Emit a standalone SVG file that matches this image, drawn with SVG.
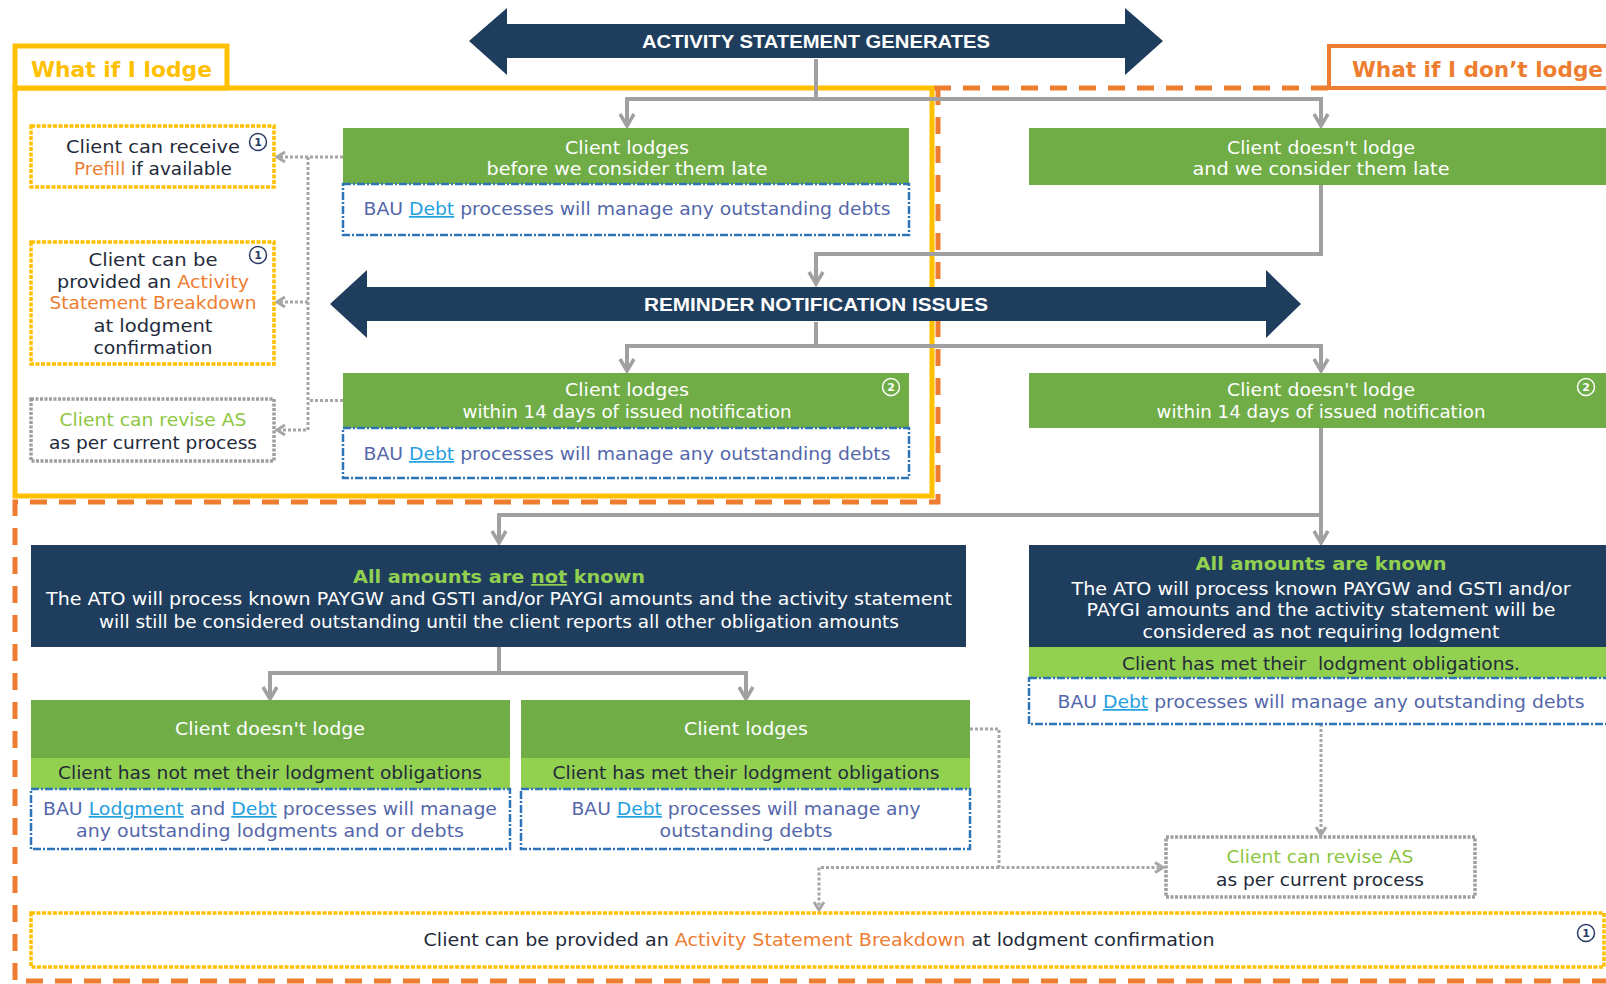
<svg xmlns="http://www.w3.org/2000/svg" width="1606" height="984" viewBox="0 0 1606 984">
<style>
.t{font-family:"DejaVu Sans","Liberation Sans",sans-serif;font-size:17px;text-anchor:middle}
.b{font-weight:bold}
.w{fill:#ffffff}
.dk{fill:#232a3a}
.bau{fill:#5467AA}
.lk{fill:#1FA0E0;text-decoration:underline}
.or{fill:#ED7D31}
.lg{fill:#8DC63F}
.ttl{fill:#92D050}
.hd{font-family:"Liberation Sans",Arial,sans-serif;font-weight:bold;font-size:19px;fill:#ffffff;text-anchor:middle}
.navy{fill:#1F3E5E}
.green{fill:#70AD47}
.lgreen{fill:#92D050}
.blue{fill:#ffffff;stroke:#2E75B6;stroke-width:2.5;stroke-dasharray:8 2 2 2}
.ybox{fill:#ffffff;stroke:#FFC000;stroke-width:3.5;stroke-dasharray:4 1.5}
.gbox{fill:#ffffff;stroke:#9E9E9E;stroke-width:3.5;stroke-dasharray:3 1.5}
.conn{stroke:#A0A0A0;stroke-width:4;fill:none}
.dot{stroke:#A6A6A6;stroke-width:3;stroke-dasharray:3 2;fill:none}
.num{font-family:"DejaVu Sans",sans-serif;font-size:11px;font-weight:bold;text-anchor:middle}
</style>
<defs>
<marker id="ah" markerUnits="userSpaceOnUse" viewBox="0 0 18 18" refX="15" refY="9" markerWidth="18" markerHeight="18" orient="auto">
<path d="M3,2 L15,9 L3,16" fill="none" stroke="#A0A0A0" stroke-width="3.5"/>
</marker>
<marker id="dh" markerUnits="userSpaceOnUse" viewBox="0 0 14 14" refX="11" refY="7" markerWidth="14" markerHeight="14" orient="auto">
<path d="M3,2 L11,7 L3,12" fill="none" stroke="#A6A6A6" stroke-width="3"/>
</marker>
</defs>
<rect width="1606" height="984" fill="#ffffff"/>

<g id="frames">
<path d="M934,88 L1329,88 M938,88 L938,502 L15,502 L15,981 L1610,981" fill="none" stroke="#ED7D31" stroke-width="5" stroke-dasharray="17 12"/>
<rect x="1329" y="46" width="290" height="42" fill="#ffffff" stroke="#ED7D31" stroke-width="4"/>
<text x="1352" y="77" class="b" font-family="DejaVu Sans,sans-serif" font-size="22" fill="#ED7D31" textLength="251" lengthAdjust="spacingAndGlyphs">What if I don’t lodge</text>
<rect x="15" y="88" width="917" height="408" fill="none" stroke="#FFC000" stroke-width="5"/>
<rect x="15" y="46" width="212" height="42" fill="#ffffff" stroke="#FFC000" stroke-width="5"/>
<text x="31" y="77" class="b" font-family="DejaVu Sans,sans-serif" font-size="22" fill="#FFC000" textLength="181" lengthAdjust="spacingAndGlyphs">What if I lodge</text>
</g>

<g id="connectors">
<path class="conn" d="M816,59 L816,99 L627,99 L627,126" marker-end="url(#ah)"/>
<path class="conn" d="M816,99 L1321,99 L1321,126" marker-end="url(#ah)"/>
<path class="conn" d="M1321,185 L1321,254 L816,254 L816,284" marker-end="url(#ah)"/>
<path class="conn" d="M816,322 L816,346 L627,346 L627,371" marker-end="url(#ah)"/>
<path class="conn" d="M816,346 L1321,346 L1321,371" marker-end="url(#ah)"/>
<path class="conn" d="M1321,428 L1321,543" marker-end="url(#ah)"/>
<path class="conn" d="M1321,515 L499,515 L499,543" marker-end="url(#ah)"/>
<path class="conn" d="M499,647 L499,673 L270,673 L270,699" marker-end="url(#ah)"/>
<path class="conn" d="M499,673 L746,673 L746,699" marker-end="url(#ah)"/>
<path class="dot" d="M343,157 L277,157" marker-end="url(#dh)"/>
<path class="dot" d="M308,157 L308,430 L277,430" marker-end="url(#dh)"/>
<path class="dot" d="M308,302 L277,302" marker-end="url(#dh)"/>
<path class="dot" d="M343,400.5 L308,400.5"/>
<path class="dot" d="M970,729 L999,729 L999,867.5 L1163,867.5" marker-end="url(#dh)"/>
<path class="dot" d="M999,867.5 L819,867.5 L819,910" marker-end="url(#dh)"/>
<path class="dot" d="M1321,724 L1321,835" marker-end="url(#dh)"/>
</g>

<g id="arrow-generates">
<polygon class="navy" points="469,41 507,8 507,24 1125,24 1125,8 1163,41 1125,75 1125,58 507,58 507,75"/>
<text class="hd" x="816" y="48" textLength="348" lengthAdjust="spacingAndGlyphs">ACTIVITY STATEMENT GENERATES</text>
</g>

<g id="arrow-reminder">
<polygon class="navy" points="330,304 367,270 367,287 1266,287 1266,270 1301,304 1266,338 1266,321 367,321 367,338"/>
<text class="hd" x="816" y="311" textLength="344" lengthAdjust="spacingAndGlyphs">REMINDER NOTIFICATION ISSUES</text>
</g>

<g id="lodge-before-late">
<rect class="green" x="343" y="128" width="566" height="56"/>
<text class="t w" x="627" y="154" textLength="124" lengthAdjust="spacingAndGlyphs">Client lodges</text>
<text class="t w" x="627" y="175" textLength="281" lengthAdjust="spacingAndGlyphs">before we consider them late</text>
<rect class="blue" x="343" y="184" width="566" height="51"/>
<text class="t bau" x="627" y="215" textLength="527" lengthAdjust="spacingAndGlyphs">BAU <tspan class="lk">Debt</tspan> processes will manage any outstanding debts</text>
</g>

<g id="not-lodge-late">
<rect class="green" x="1029" y="128" width="590" height="57"/>
<text class="t w" x="1321" y="154" textLength="188" lengthAdjust="spacingAndGlyphs">Client doesn't lodge</text>
<text class="t w" x="1321" y="175" textLength="257" lengthAdjust="spacingAndGlyphs">and we consider them late</text>
</g>

<g id="prefill">
<rect class="ybox" x="31" y="126" width="243" height="61"/>
<text class="t dk" x="153" y="153" textLength="174" lengthAdjust="spacingAndGlyphs">Client can receive</text>
<text class="t dk" x="153" y="175" textLength="158" lengthAdjust="spacingAndGlyphs"><tspan class="or">Prefill</tspan> if available</text>
<circle cx="258" cy="142" r="8.5" fill="#ffffff" stroke="#2B3A67" stroke-width="1.5"/>
<text class="num" x="258" y="146" fill="#2B3A67">1</text>
</g>

<g id="as-breakdown-left">
<rect class="ybox" x="31" y="242" width="243" height="122"/>
<text class="t dk" x="153" y="266" textLength="129" lengthAdjust="spacingAndGlyphs">Client can be</text>
<text class="t dk" x="153" y="288" textLength="192" lengthAdjust="spacingAndGlyphs">provided an <tspan class="or">Activity</tspan></text>
<text class="t or" x="153" y="309" textLength="207" lengthAdjust="spacingAndGlyphs">Statement Breakdown</text>
<text class="t dk" x="153" y="332" textLength="119" lengthAdjust="spacingAndGlyphs">at lodgment</text>
<text class="t dk" x="153" y="354" textLength="119" lengthAdjust="spacingAndGlyphs">confirmation</text>
<circle cx="258" cy="255" r="8.5" fill="#ffffff" stroke="#2B3A67" stroke-width="1.5"/>
<text class="num" x="258" y="259" fill="#2B3A67">1</text>
</g>

<g id="revise-left">
<rect class="gbox" x="31" y="399" width="243" height="62"/>
<text class="t lg" x="153" y="426" textLength="187" lengthAdjust="spacingAndGlyphs">Client can revise AS</text>
<text class="t dk" x="153" y="449" textLength="208" lengthAdjust="spacingAndGlyphs">as per current process</text>
</g>

<g id="lodge-within-14">
<rect class="green" x="343" y="373" width="566" height="55"/>
<text class="t w" x="627" y="396" textLength="124" lengthAdjust="spacingAndGlyphs">Client lodges</text>
<text class="t w" x="627" y="418" textLength="329" lengthAdjust="spacingAndGlyphs">within 14 days of issued notification</text>
<circle cx="891" cy="387" r="8.5" fill="none" stroke="#ffffff" stroke-width="1.5"/>
<text class="num" x="891" y="391" fill="#ffffff">2</text>
<rect class="blue" x="343" y="428" width="566" height="50"/>
<text class="t bau" x="627" y="460" textLength="527" lengthAdjust="spacingAndGlyphs">BAU <tspan class="lk">Debt</tspan> processes will manage any outstanding debts</text>
</g>

<g id="not-lodge-within-14">
<rect class="green" x="1029" y="373" width="590" height="55"/>
<text class="t w" x="1321" y="396" textLength="188" lengthAdjust="spacingAndGlyphs">Client doesn't lodge</text>
<text class="t w" x="1321" y="418" textLength="329" lengthAdjust="spacingAndGlyphs">within 14 days of issued notification</text>
<circle cx="1586" cy="387" r="8.5" fill="none" stroke="#ffffff" stroke-width="1.5"/>
<text class="num" x="1586" y="391" fill="#ffffff">2</text>
</g>

<g id="amounts-not-known">
<rect class="navy" x="31" y="545" width="935" height="102"/>
<text class="t b ttl" x="499" y="583" font-size="18" textLength="292" lengthAdjust="spacingAndGlyphs">All amounts are <tspan text-decoration="underline">not</tspan> known</text>
<text class="t w" x="499" y="605" textLength="906" lengthAdjust="spacingAndGlyphs">The ATO will process known PAYGW and GSTI and/or PAYGI amounts and the activity statement</text>
<text class="t w" x="499" y="628" textLength="800" lengthAdjust="spacingAndGlyphs">will still be considered outstanding until the client reports all other obligation amounts</text>
</g>

<g id="amounts-known">
<rect class="navy" x="1029" y="545" width="590" height="102"/>
<text class="t b ttl" x="1321" y="570" font-size="18" textLength="251" lengthAdjust="spacingAndGlyphs">All amounts are known</text>
<text class="t w" x="1321" y="595" textLength="499" lengthAdjust="spacingAndGlyphs">The ATO will process known PAYGW and GSTI and/or</text>
<text class="t w" x="1321" y="616" textLength="469" lengthAdjust="spacingAndGlyphs">PAYGI amounts and the activity statement will be</text>
<text class="t w" x="1321" y="638" textLength="357" lengthAdjust="spacingAndGlyphs">considered as not requiring lodgment</text>
<rect class="lgreen" x="1029" y="647" width="590" height="31"/>
<text class="t dk" x="1321" y="670" style="white-space:pre" textLength="398" lengthAdjust="spacingAndGlyphs">Client has met their  lodgment obligations.</text>
<rect class="blue" x="1029" y="678" width="600" height="46"/>
<text class="t bau" x="1321" y="708" textLength="527" lengthAdjust="spacingAndGlyphs">BAU <tspan class="lk">Debt</tspan> processes will manage any outstanding debts</text>
</g>

<g id="bottom-not-lodge">
<rect class="green" x="31" y="700" width="479" height="58"/>
<text class="t w" x="270" y="735" textLength="190" lengthAdjust="spacingAndGlyphs">Client doesn't lodge</text>
<rect class="lgreen" x="31" y="758" width="479" height="31"/>
<text class="t dk" x="270" y="779" textLength="424" lengthAdjust="spacingAndGlyphs">Client has not met their lodgment obligations</text>
<rect class="blue" x="31" y="789" width="479" height="60"/>
<text class="t bau" x="270" y="815" textLength="454" lengthAdjust="spacingAndGlyphs">BAU <tspan class="lk">Lodgment</tspan> and <tspan class="lk">Debt</tspan> processes will manage</text>
<text class="t bau" x="270" y="837" textLength="388" lengthAdjust="spacingAndGlyphs">any outstanding lodgments and or debts</text>
</g>

<g id="bottom-lodges">
<rect class="green" x="521" y="700" width="449" height="58"/>
<text class="t w" x="746" y="735" textLength="124" lengthAdjust="spacingAndGlyphs">Client lodges</text>
<rect class="lgreen" x="521" y="758" width="449" height="31"/>
<text class="t dk" x="746" y="779" textLength="387" lengthAdjust="spacingAndGlyphs">Client has met their lodgment obligations</text>
<rect class="blue" x="521" y="789" width="449" height="60"/>
<text class="t bau" x="746" y="815" textLength="349" lengthAdjust="spacingAndGlyphs">BAU <tspan class="lk">Debt</tspan> processes will manage any</text>
<text class="t bau" x="746" y="837" textLength="173" lengthAdjust="spacingAndGlyphs">outstanding debts</text>
</g>

<g id="revise-right">
<rect class="gbox" x="1166" y="837" width="309" height="60"/>
<text class="t lg" x="1320" y="863" textLength="187" lengthAdjust="spacingAndGlyphs">Client can revise AS</text>
<text class="t dk" x="1320" y="886" textLength="208" lengthAdjust="spacingAndGlyphs">as per current process</text>
</g>

<g id="as-breakdown-bottom">
<rect class="ybox" x="31" y="913" width="1573" height="54"/>
<text class="t dk" x="819" y="946" textLength="791" lengthAdjust="spacingAndGlyphs">Client can be provided an <tspan class="or">Activity Statement Breakdown</tspan> at lodgment confirmation</text>
<circle cx="1586" cy="933" r="8.5" fill="#ffffff" stroke="#2B3A67" stroke-width="1.5"/>
<text class="num" x="1586" y="937" fill="#2B3A67">1</text>
</g>
</svg>
